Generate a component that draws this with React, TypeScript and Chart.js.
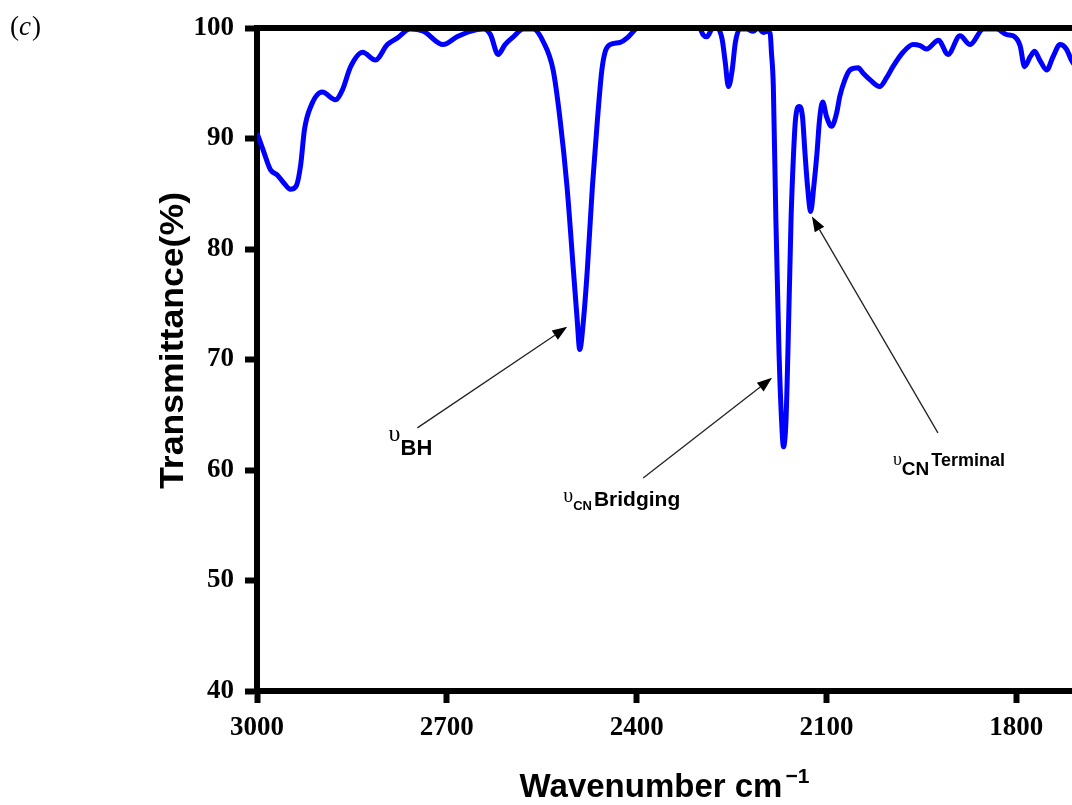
import React, { useEffect, useRef } from "react";
import { Chart, registerables } from "chart.js";

Chart.register(...registerables);

// ---------- data ----------
const wavenumbers = [
  3000, 2990, 2979, 2968, 2958, 2947, 2938, 2931, 2925, 2915, 2897, 2876, 2865, 2852, 2833, 2813,
  2794, 2778, 2758, 2737, 2706, 2684, 2663, 2642, 2631, 2619, 2608, 2595, 2579, 2563, 2548, 2532,
  2521, 2510, 2500, 2494, 2490, 2484, 2478, 2470, 2462, 2455, 2450, 2442, 2426, 2415, 2402, 2394,
  2370, 2340, 2310, 2300, 2295, 2289, 2281, 2273, 2265, 2260, 2255, 2249, 2244, 2237, 2226, 2216,
  2208, 2200, 2194, 2189, 2187, 2184, 2180, 2175, 2171, 2168, 2164, 2161, 2156, 2152, 2149, 2143,
  2138, 2134, 2130, 2125, 2120, 2115, 2111, 2106, 2100, 2092, 2084, 2079, 2071, 2063, 2050, 2042,
  2031, 2016, 2005, 1995, 1979, 1963, 1952, 1942, 1923, 1908, 1889, 1873, 1852, 1831, 1815, 1805,
  1794, 1787, 1778, 1771, 1763, 1752, 1742, 1731, 1721, 1713, 1705,
];
const transmittance = [
  90.5, 88.9, 87.2, 86.7, 86.0, 85.4, 85.7, 87.6, 90.8, 92.9, 94.2, 93.5, 94.4, 96.5, 97.8, 97.1,
  98.5, 99.1, 99.9, 99.7, 98.5, 99.2, 99.7, 99.9, 99.4, 97.6, 98.5, 99.2, 99.9, 99.9, 98.8, 96.2,
  91.7, 85.6, 78.1, 73.6, 70.9, 73.6, 78.1, 85.6, 91.7, 96.2, 97.8, 98.5, 98.7, 99.1, 99.9, 100.3,
  100.8, 101.0, 100.6, 100.0, 99.4, 99.2, 99.9, 100.0, 99.0, 96.9, 94.7, 96.2, 98.7, 99.9, 99.9, 99.7,
  100.0, 99.6, 99.7, 99.5, 97.8, 94.7, 82.7, 70.6, 64.5, 62.1, 64.5, 70.6, 82.7, 88.7, 91.7, 92.9,
  92.0, 88.7, 85.7, 83.4, 85.7, 88.7, 91.7, 93.3, 92.0, 91.1, 92.3, 93.8, 95.3, 96.2, 96.4, 95.9,
  95.3, 94.7, 95.5, 96.5, 97.8, 98.5, 98.4, 98.1, 98.9, 97.6, 99.3, 98.5, 99.9, 99.9, 99.4, 99.3,
  98.4, 96.5, 97.4, 97.9, 97.1, 96.2, 97.4, 98.5, 98.1, 97.1, 96.4,
];

const xTickValues = [3000, 2700, 2400, 2100, 1800];
const yTickValues = [40, 50, 60, 70, 80, 90, 100];
const xRange = [1712, 3000];
const yRange = [40, 100];

const xTitle = "Wavenumber cm";
const xTitleSup = "\u22121";
const yTitle = "Transmittance(%)";

// arrows in data coordinates [wavenumber, transmittance]
const arrowFrom = [
  [2746.6, 63.81],
  [2389.7, 59.28],
  [1923.9, 63.36],
];
const arrowTo = [
  [2509.7, 72.96],
  [2186, 68.34],
  [2123, 82.93],
];

// labels anchored in data coordinates
const labelAnchors = [
  [2792, 62.64],
  [2516, 57.11],
  [1995, 60.46],
];
const labelRuns = [
  [
    { text: "\u03c5", size: 24, bold: false, serif: true, dy: 0, dx: 0 },
    { text: "BH", size: 22, bold: true, serif: false, dy: 14, dx: 0 },
  ],
  [
    { text: "\u03c5", size: 20, bold: false, serif: true, dy: 0, dx: 0 },
    { text: "CN", size: 13, bold: true, serif: false, dy: 8, dx: 0 },
    { text: "Bridging", size: 21, bold: true, serif: false, dy: 4.5, dx: 2 },
  ],
  [
    { text: "\u03c5", size: 18, bold: false, serif: true, dy: 0, dx: 0 },
    { text: "CN", size: 19, bold: true, serif: false, dy: 10, dx: 0 },
    { text: "Terminal", size: 18, bold: true, serif: false, dy: 1, dx: 2 },
  ],
];

const SANS = "'Liberation Sans', Arial, sans-serif";
const SERIF = "'Liberation Serif', 'Times New Roman', serif";

const decorPlugin = {
  id: "decor",
  afterDraw(chart: any) {
    const { ctx, chartArea, scales } = chart;
    const xs = scales.x;
    const ys = scales.y;
    ctx.save();

    // top spine
    ctx.strokeStyle = "#000";
    ctx.lineWidth = 6;
    ctx.beginPath();
    ctx.moveTo(chartArea.left - 3, chartArea.top);
    ctx.lineTo(chartArea.right + 3, chartArea.top);
    ctx.stroke();

    // arrows
    for (let i = 0; i < arrowFrom.length; i++) {
      const x1 = xs.getPixelForValue(arrowFrom[i][0]);
      const y1 = ys.getPixelForValue(arrowFrom[i][1]);
      const x2 = xs.getPixelForValue(arrowTo[i][0]);
      const y2 = ys.getPixelForValue(arrowTo[i][1]);
      const ang = Math.atan2(y2 - y1, x2 - x1);
      const hl = 15;
      const hw = 5.5;
      const bx = x2 - hl * Math.cos(ang);
      const by = y2 - hl * Math.sin(ang);
      ctx.strokeStyle = "#222";
      ctx.lineWidth = 1.3;
      ctx.beginPath();
      ctx.moveTo(x1, y1);
      ctx.lineTo(bx, by);
      ctx.stroke();
      ctx.fillStyle = "#000";
      ctx.beginPath();
      ctx.moveTo(x2, y2);
      ctx.lineTo(bx + hw * Math.sin(ang), by - hw * Math.cos(ang));
      ctx.lineTo(bx - hw * Math.sin(ang), by + hw * Math.cos(ang));
      ctx.closePath();
      ctx.fill();
    }

    // annotation labels
    ctx.fillStyle = "#000";
    ctx.textAlign = "left";
    ctx.textBaseline = "alphabetic";
    for (let i = 0; i < labelAnchors.length; i++) {
      let cx = xs.getPixelForValue(labelAnchors[i][0]);
      const cy = ys.getPixelForValue(labelAnchors[i][1]);
      for (const r of labelRuns[i]) {
        ctx.font = `${r.bold ? "bold " : ""}${r.size}px ${r.serif ? SERIF : SANS}`;
        cx += r.dx;
        ctx.fillText(r.text, cx, cy + r.dy);
        cx += ctx.measureText(r.text).width;
      }
    }

    // x title
    ctx.font = `bold 33px ${SANS}`;
    const wMain = ctx.measureText(xTitle).width;
    ctx.font = `bold 21px ${SANS}`;
    const wSup = ctx.measureText(xTitleSup).width;
    const total = wMain + 3 + wSup;
    const cxMid = (chartArea.left + chartArea.right) / 2;
    const tx = cxMid - total / 2;
    ctx.font = `bold 33px ${SANS}`;
    ctx.fillText(xTitle, tx, 797);
    ctx.font = `bold 21px ${SANS}`;
    ctx.fillText(xTitleSup, tx + wMain + 3, 783);

    // y title
    ctx.save();
    ctx.translate(183, (chartArea.top + chartArea.bottom) / 2 - 19);
    ctx.rotate(-Math.PI / 2);
    ctx.scale(1.08, 1);
    ctx.font = `bold 33px ${SANS}`;
    ctx.textAlign = "center";
    ctx.fillText(yTitle, 0, 0);
    ctx.restore();

    // panel label (c)
    ctx.textAlign = "left";
    ctx.font = `27px ${SERIF}`;
    let px = 10;
    ctx.fillText("(", px, 35);
    px += ctx.measureText("(").width;
    ctx.font = `italic 27px ${SERIF}`;
    ctx.fillText("c", px, 35);
    px += ctx.measureText("c").width + 1;
    ctx.font = `27px ${SERIF}`;
    ctx.fillText(")", px, 35);

    ctx.restore();
  },
};

export default function App() {
  const ref = useRef<HTMLCanvasElement | null>(null);

  useEffect(() => {
    if (!ref.current) return;
    const tickFont = { family: SERIF, size: 27, weight: "bold" as const };
    const chart = new Chart(ref.current, {
      type: "line",
      data: {
        datasets: [
          {
            data: wavenumbers.map((x, i) => ({ x, y: transmittance[i] })),
            borderColor: "#0000ff",
            borderWidth: 5,
            pointRadius: 0,
            fill: false,
            cubicInterpolationMode: "monotone",
            clip: 0,
          } as any,
        ],
      },
      options: {
        animation: false,
        responsive: false,
        maintainAspectRatio: false,
        layout: { padding: { top: 28, left: 0, right: 0, bottom: 0 } },
        plugins: { legend: { display: false }, tooltip: { enabled: false } },
        scales: {
          x: {
            type: "linear",
            reverse: true,
            min: xRange[0],
            max: xRange[1],
            afterBuildTicks: (s: any) => {
              s.ticks = xTickValues.map((v) => ({ value: v }));
            },
            afterFit: (s: any) => {
              s.height = 114;
            },
            ticks: {
              font: tickFont,
              color: "#000",
              padding: 9,
              maxRotation: 0,
              autoSkip: false,
              callback: (v: any) => String(v),
            },
            grid: {
              display: true,
              drawOnChartArea: false,
              drawTicks: true,
              tickLength: 12,
              tickWidth: 6,
              tickColor: "#000",
            },
            border: { display: true, width: 6, color: "#000" },
          },
          y: {
            min: yRange[0],
            max: yRange[1],
            afterBuildTicks: (s: any) => {
              s.ticks = yTickValues.map((v) => ({ value: v }));
            },
            afterFit: (s: any) => {
              s.width = 257;
            },
            ticks: {
              font: tickFont,
              color: "#000",
              padding: 11,
              autoSkip: false,
              callback: (v: any) => String(v),
            },
            grid: {
              display: true,
              drawOnChartArea: false,
              drawTicks: true,
              tickLength: 12,
              tickWidth: 6,
              tickColor: "#000",
            },
            border: { display: true, width: 6, color: "#000" },
          },
        },
      },
      plugins: [decorPlugin],
    });
    return () => chart.destroy();
  }, []);

  return (
    <div style={{ position: "absolute", left: 0, top: 0, width: 1072, height: 805, background: "#fff" }}>
      <canvas ref={ref} width={1072} height={805} style={{ display: "block" }} />
    </div>
  );
}
